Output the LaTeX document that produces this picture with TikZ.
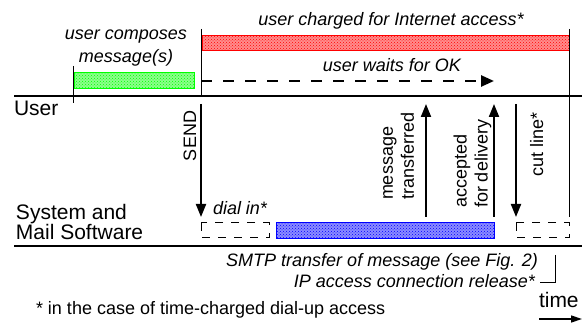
\documentclass[tikz,border=0pt]{standalone}
\usepackage{fontspec}
\setmainfont{Liberation Sans}
\usetikzlibrary{arrows.meta,patterns}
\begin{document}
\begin{tikzpicture}[x=1pt,y=-1pt,
  every node/.style={inner sep=0pt, outer sep=0pt},
  lab/.style={font=\fontsize{18}{23}\selectfont\itshape},
  big/.style={font=\fontsize{21}{20}\selectfont},
  plain/.style={font=\fontsize{18}{21}\selectfont},
  axisline/.style={line width=2.2pt},
  thinline/.style={line width=1pt},
  evt/.style={line width=2pt, -{Triangle[length=13pt,width=10pt]}},
  waitarrow/.style={line width=2.5pt, dash pattern=on 11pt off 11pt, -{Triangle[length=13pt,width=11pt]}},
  bar/.style={draw=#1, line width=1pt, fill=#1!45, postaction={pattern=crosshatch dots, pattern color=#1}},
  dashbox/.style={draw, line width=1pt, dash pattern=on 8pt off 8pt},
  timearrow/.style={line width=1.5pt, -{Triangle[length=11pt,width=7pt]}},
]
\useasboundingbox (0,0) rectangle (582,323);

% time axes
\coordinate (uL) at (14,96);  \coordinate (uR) at (582,96);
\coordinate (sL) at (14,246); \coordinate (sR) at (582,246);
\draw[axisline] (uL) -- (uR);
\draw[axisline] (sL) -- (sR);

% bars
\draw[bar=red]   (202,36) rectangle (569,51);
\draw[bar=green] (74,73) rectangle (194,89);
\draw[bar=blue]  (276,223) rectangle (494,239);
\draw[dashbox] (201,223) rectangle (269,238);
\draw[dashbox] (516,223) rectangle (569,238);

% vertical markers
\coordinate (t0a) at (73,66);  \coordinate (t0b) at (73,103);
\coordinate (t1a) at (201,29); \coordinate (t1b) at (201,96);
\coordinate (t2a) at (569,29); \coordinate (t2b) at (569,217);
\draw[thinline] (t0a) -- (t0b);
\draw[thinline] (t1a) -- (t1b);
\draw[thinline] (t2a) -- (t2b);

% waiting arrow
\coordinate (w0) at (201,81); \coordinate (w1) at (494,81);
\draw[waitarrow] (w0) -- (w1);

% event arrows
\coordinate (sendA) at (201,104); \coordinate (sendB) at (201,217);
\coordinate (mtA) at (426,217);   \coordinate (mtB) at (426,104);
\coordinate (afA) at (494,217);   \coordinate (afB) at (494,104);
\coordinate (cutA) at (516,104);  \coordinate (cutB) at (516,217);
\draw[evt] (sendA) -- (sendB);
\draw[evt] (mtA) -- (mtB);
\draw[evt] (afA) -- (afB);
\draw[evt] (cutA) -- (cutB);

% labels
\node[big, anchor=base west] (user) at (14,116) {User};
\node[big, anchor=base west, align=left] (sys) at (16,240) {System and\\Mail Software};
\node[lab, anchor=base] (charge) at (391,26) {user charged for Internet access*};
\node[lab, anchor=base, align=center] (compose) at (126,63) {user composes\\message(s)};
\node[lab, anchor=base] (wait) at (392,72) {user waits for OK};
\node[lab, anchor=base west] (dial) at (213,215) {dial in*};
\node[lab, anchor=base east] (smtp) at (538,267) {SMTP transfer of message (see Fig. 2)};
\node[lab, anchor=base east] (ip) at (535,288) {IP access connection release*};
\node[plain, anchor=base west] (note) at (36,315) {* in the case of time-charged dial-up access};
\node[big, anchor=base west] (time) at (539,308) {time};

\node[plain, rotate=90, anchor=base] (send) at (196,136) {SEND};
\node[plain, rotate=90, anchor=west, align=left] (mt) at (398.5,200) {message\\transferred};
\node[plain, rotate=90, anchor=west, align=left] (afd) at (472.5,208) {accepted\\for delivery};
\node[plain, rotate=90, anchor=base] (cut) at (543,144) {cut line*};

% bracket
\coordinate (brA) at (555,255); \coordinate (brB) at (555,283); \coordinate (brC) at (540,283);
\draw[thinline] (brA) -- (brB) -- (brC);

% time arrow
\coordinate (ta) at (539,319); \coordinate (tb) at (582,319);
\draw[timearrow] (ta) -- (tb);
\end{tikzpicture}
\end{document}
